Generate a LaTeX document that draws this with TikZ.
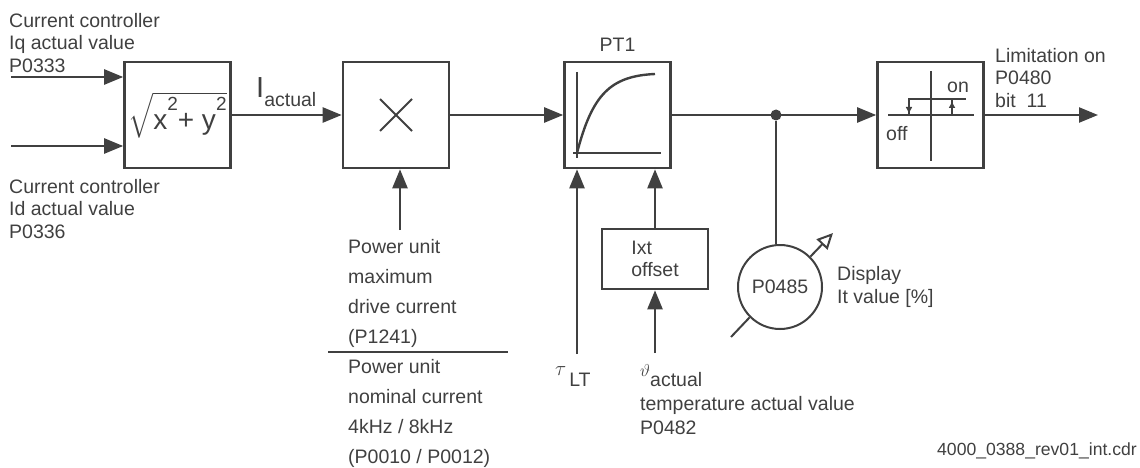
\documentclass[tikz,border=0pt]{standalone}
\usepackage{amsmath}
\usepackage{fontspec}
\setmainfont{Liberation Sans}
\usepackage{tikz}
\usetikzlibrary{arrows.meta,positioning,calc}
\definecolor{ink}{HTML}{404040}
\newcommand{\sqexp}{\raisebox{19pt}{\fontsize{19}{19}\selectfont 2}}
\tikzset{
  blockbox/.style={draw=ink, text=ink, line width=2.6pt, minimum width=106pt, minimum height=106pt, inner sep=0pt},
  sigline/.style={draw=ink, line width=2.4pt},
  sigarrow/.style={sigline, -{Triangle[length=19pt,width=15pt]}},
  minitip/.style={draw=ink, line width=2pt, -{Triangle[length=6pt,width=6pt]}},
  lbl/.style={text=ink, inner sep=0pt, align=left, font={\fontsize{19.5}{22.5}\selectfont}},
  dispcircle/.style={circle, draw=ink, line width=2pt, minimum size=84pt, inner sep=0pt},
  junction/.style={circle, fill=ink, inner sep=0pt, minimum size=11pt}
}

\begin{document}
\begin{tikzpicture}[x=1pt, y=-1pt]
  \useasboundingbox (0,0) rectangle (1140,468);

  % blocks on the signal path
  \node[blockbox] (sq) at (177.5,115) {\fontsize{28}{28}\selectfont$\sqrt{\text{x\sqexp+ y\sqexp}}$};
  \node[blockbox] (mul) at (396,115) {};
  \node[blockbox] (pt) at (617.5,115) {};
  \node[blockbox] (hys) at (930.5,115) {};
  \node[lbl, above=9pt of pt] (pttxt) {PT1};
  \node[blockbox, lbl, minimum height=60pt] (ixt) at (655,259) {Ixt\\offset};
  \node[junction] (jn) at (776,115) {};
  \node[dispcircle, lbl] (disp) at (780,287) {P0485};

  % free ends
  \coordinate (iq) at (11,77);
  \coordinate (id) at (11,146);
  \coordinate (puin) at (400,230);
  \coordinate (tauin) at (577,354);
  \coordinate (tmpin) at (655,353);
  \coordinate (out) at (1098,115);
  \coordinate (dll) at (731,337);
  \coordinate (dtip) at (833,233);

  % signals
  \draw[sigarrow] (iq) -- (iq -| sq.west);
  \draw[sigarrow] (id) -- (id -| sq.west);
  \draw[sigarrow] (sq) -- (mul);
  \draw[sigarrow] (mul) -- (pt);
  \draw[sigarrow] (pt) -- (hys);
  \draw[sigarrow] (hys) -- (out);
  \draw[sigarrow] (puin) -- (puin |- mul.south);
  \draw[sigarrow] (tauin) -- (tauin |- pt.south);
  \draw[sigarrow] (ixt) -- (ixt |- pt.south);
  \draw[sigarrow] (tmpin) -- (ixt);
  \draw[sigline] (jn) -- (jn |- disp.north);
  \draw[sigline, line width=2pt] (dll) -- (disp.225);
  \draw[sigline, line width=2pt, -{Triangle[open,length=16pt,width=15pt]}] (disp.45) -- (dtip);
  \draw[sigline, line width=2pt] (328,352) -- (508,352);

  % block symbols
  \draw[sigline, line width=2pt] ($(mul)+(-16,-16)$) -- ($(mul)+(16,16)$) ($(mul)+(-16,16)$) -- ($(mul)+(16,-16)$);
  \begin{scope}[shift={(pt.center)}]
    \draw[sigline] (-40.5,-43) -- (-40.5,43) (-44.5,38) -- (43.5,38);
    \draw[sigline] (-40.5,38) .. controls (-25.5,-20) and (-7.5,-39) .. (37.5,-41);
  \end{scope}
  \begin{scope}[shift={(hys.center)}]
    \draw[sigline, line width=2.2pt] (0.5,-44) -- (0.5,46) (-42.5,0) -- (43.5,0);
    \draw[sigline, line width=2.2pt] (-21.5,0) -- (-21.5,-16) -- (35.5,-16) (21.5,0) -- (21.5,-16);
    \draw[minitip] (-21.5,-12) -- (-21.5,-2);
    \draw[minitip] (21.5,-3) -- (21.5,-13);
  \end{scope}

  % texts
  \node[lbl, anchor=north west] (iqtxt) at (9,13) {Current controller\\Iq actual value\\P0333};
  \node[lbl, anchor=north west] (idtxt) at (9,179) {Current controller\\Id actual value\\P0336};
  \node[lbl, anchor=base west] (iact) at (256,98) {{\fontsize{29}{29}\selectfont I}\raisebox{-9pt}{actual}};
  \node[lbl, anchor=north west, font={\fontsize{19.5}{30}\selectfont}] (putxt) at (348,239) {Power unit\\maximum\\drive current\\(P1241)\\Power unit\\nominal current\\4kHz / 8kHz\\(P0010 / P0012)};
  \node[lbl, anchor=base west] (tautxt) at (555,386) {\raisebox{11pt}{\fontsize{21}{21}\selectfont$\tau$}\hspace{3pt}LT};
  \node[lbl, anchor=base west] (thtxt) at (640,386) {\raisebox{10pt}{\fontsize{17}{17}\selectfont$\vartheta$}actual};
  \node[lbl, anchor=north west, font={\fontsize{19.5}{24.5}\selectfont}] (tmptxt) at (640,396) {temperature actual value\\P0482};
  \node[lbl, anchor=north west, font={\fontsize{19.5}{23}\selectfont}] (disptxt) at (837,266) {Display\\It value [\%]};
  \node[lbl, anchor=north west] (limtxt) at (995,48) {Limitation on\\P0480\\bit\ \ 11};
  \node[lbl, anchor=base west] (ontxt) at (947,93) {on};
  \node[lbl, anchor=base west] (offtxt) at (886,140) {off};
  \node[lbl, anchor=base east, font={\fontsize{17.6}{20}\selectfont}] (fname) at (1137,455) {4000\_0388\_rev01\_int.cdr};
\end{tikzpicture}
\end{document}
